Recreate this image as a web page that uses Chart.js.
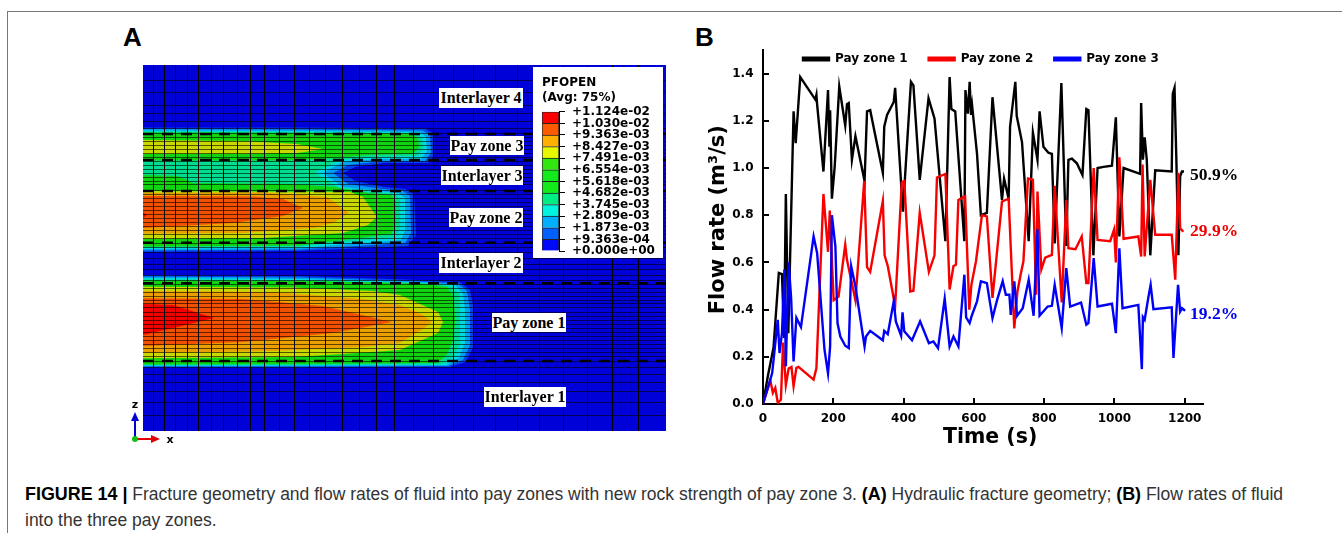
<!DOCTYPE html>
<html>
<head>
<meta charset="utf-8">
<script src="https://cdn.jsdelivr.net/npm/chart.js"></script>
<style>
  html, body { margin: 0; padding: 0; background: #fff; }
  #page { position: relative; width: 1342px; height: 533px; overflow: hidden; }
  canvas { position: absolute; }
  .frame-top { position: absolute; left: 7px; top: 11px; right: 0; height: 1px; background: #777; }
  .frame-left { position: absolute; left: 7px; top: 11px; bottom: 0; width: 1px; background: #777; }
  .panel { position: absolute; font: bold 26px "Liberation Sans", sans-serif; line-height: 30px; }
  .zone { position: absolute; background: #fff; text-align: center; white-space: nowrap; font: bold 16px "Liberation Serif", serif; }
  .share { position: absolute; white-space: nowrap; font: bold 17.5px "Liberation Serif", serif; line-height: 20px; }
  .caption { position: absolute; left: 25px; white-space: nowrap; font: 17.5px "Liberation Sans", sans-serif; line-height: 18px; color: #333; }
  .caption b { color: #000; font-size: 17.9px; }
  #triad { position: absolute; left: 125px; top: 392px; }
</style>
</head>
<body>
<div id="page">
  <div class="frame-top"></div>
  <div class="frame-left"></div>
  <div class="panel" style="left:123px;top:22px">A</div>
  <div class="panel" style="left:695px;top:22px">B</div>

  <canvas id="fieldChart" width="523" height="366" style="left:143px;top:65px"></canvas>
  <canvas id="scaleChart" width="130" height="191" style="left:533px;top:67px;background:#fff"></canvas>

  <div class="zone" style="left:439px;top:88px;width:84px;height:20px;line-height:20px">Interlayer 4</div>
  <div class="zone" style="left:450px;top:136px;width:74px;height:19px;line-height:19px">Pay zone 3</div>
  <div class="zone" style="left:441px;top:166px;width:82px;height:19px;line-height:19px">Interlayer 3</div>
  <div class="zone" style="left:449px;top:208px;width:74px;height:19px;line-height:19px">Pay zone 2</div>
  <div class="zone" style="left:439px;top:253px;width:84px;height:20px;line-height:20px">Interlayer 2</div>
  <div class="zone" style="left:492px;top:313px;width:74px;height:19px;line-height:19px">Pay zone 1</div>
  <div class="zone" style="left:484px;top:387px;width:82px;height:20px;line-height:20px">Interlayer 1</div>

  <svg id="triad" width="60" height="56">
    <text x="10" y="16" font-family="DejaVu Sans" font-weight="bold" font-size="11" text-anchor="middle">z</text>
    <line x1="10" y1="47" x2="10" y2="28" stroke="#0000d0" stroke-width="2"/>
    <polygon points="6,29 14,29 10,20" fill="#0000d0"/>
    <line x1="10" y1="47" x2="27" y2="47" stroke="#e00000" stroke-width="2"/>
    <polygon points="26,43 26,51 35,47" fill="#e00000"/>
    <circle cx="10" cy="47" r="3" fill="#10c010"/>
    <text x="45" y="51" font-family="DejaVu Sans" font-weight="bold" font-size="11" text-anchor="middle">x</text>
  </svg>

  <canvas id="flowChart" width="560" height="410" style="left:690px;top:40px"></canvas>
  <div class="share" style="left:1190px;top:164px;color:#000">50.9%</div>
  <div class="share" style="left:1190px;top:220px;color:#f00000">29.9%</div>
  <div class="share" style="left:1190px;top:303px;color:#0000f0">19.2%</div>

  <div class="caption" style="top:485px"><b>FIGURE 14 |</b> Fracture geometry and flow rates of fluid into pay zones with new rock strength of pay zone 3. <b>(A)</b> Hydraulic fracture geometry; <b>(B)</b> Flow rates of fluid</div>
  <div class="caption" style="top:511px">into the three pay zones.</div>
</div>

<script>
// Panel B: flow rate of each pay zone
const zone1Time = [0,14,30,45,54,60,65,72,87,93,106,149,152,154,172,185,189,191,196,204,217,234,239,244,253,263,289,296,305,341,345,353,372,376,398,421,428,446,471,488,519,531,536,547,573,576,583,588,592,595,609,620,637,653,680,686,699,703,718,722,737,756,768,781,787,798,812,822,830,849,863,869,879,893,909,920,926,940,952,969,993,1004,1014,1026,1073,1076,1081,1086,1092,1102,1116,1163,1166,1171,1176,1182,1187,1192,1198];
const zone1Flow = [0,0.12,0.24,0.555,0.55,0.28,0.89,0.3,1.24,1.105,1.385,1.29,1.31,1.27,0.985,1.33,1.09,1.245,0.87,1.005,1.345,1.18,1.27,1.275,1.035,1.135,0.945,1.24,1.245,0.98,1.175,1.225,1.28,1.34,0.815,1.365,1.35,0.95,1.295,1.21,0.69,1.385,1.25,1.24,0.69,1.33,1.23,1.365,1.225,1.265,1.06,0.8,0.81,1.3,0.865,0.955,0.87,1.175,1.365,1.22,1.11,0.69,1.15,1.035,1.24,1.09,1.065,1.06,0.68,1.36,0.67,1.035,1.04,1.02,0.97,1.25,1.245,0.63,1,1.005,1.01,1.215,0.71,1,0.975,1.275,1.035,1.13,1.035,0.63,0.99,0.985,1.315,1.34,1.05,0.63,0.965,0.985,0.985];

const zone2Time = [0,21,28,35,42,51,57,65,73,81,87,95,101,144,152,172,185,190,201,215,234,239,263,288,296,305,341,346,355,376,395,402,419,428,446,472,488,495,519,531,542,549,556,575,587,593,606,623,637,653,680,699,715,724,734,741,754,768,777,781,792,803,822,830,850,863,869,889,907,920,926,941,952,988,999,1004,1014,1026,1068,1076,1080,1086,1102,1116,1163,1173,1182,1187,1196];
const zone2Flow = [0,0.1,0.047,0.068,0.005,0.018,0.26,0.08,0.15,0.157,0.075,0.153,0.157,0.103,0.152,0.89,0.645,0.82,0.44,0.455,0.675,0.61,0.44,0.945,0.58,0.56,0.86,0.63,0.585,0.415,0.94,0.945,0.477,0.48,0.81,0.56,0.63,0.96,0.975,0.485,0.585,0.59,0.865,0.88,0.4,0.505,0.605,0.8,0.795,0.45,0.858,0.87,0.32,0.477,0.555,0.605,0.955,0.95,0.463,0.9,0.57,0.62,0.632,0.925,0.43,0.865,0.66,0.656,0.71,0.512,0.512,1,0.695,0.69,0.74,0.6,1.045,0.7,0.71,0.625,1.015,0.625,0.95,0.717,0.717,0.527,0.98,0.745,0.73];

const zone3Time = [0,26,42,47,54,61,65,73,80,87,95,108,144,154,175,185,191,196,206,212,220,234,244,251,263,289,293,305,341,345,355,372,378,393,397,402,424,447,472,485,498,517,531,542,556,573,578,588,594,609,620,637,653,666,682,691,701,705,715,723,739,756,770,781,787,810,822,830,850,863,874,905,920,926,941,952,993,1004,1014,1023,1068,1078,1081,1086,1097,1103,1111,1163,1168,1181,1187,1192,1201];
const zone3Flow = [0,0.13,0.357,0.216,0.3,0.57,0.16,0.6,0.45,0.18,0.365,0.326,0.71,0.64,0.23,0.13,0.244,0.8,0.667,0.343,0.286,0.247,0.237,0.583,0.498,0.244,0.286,0.31,0.27,0.31,0.296,0.435,0.35,0.289,0.388,0.308,0.27,0.35,0.258,0.265,0.237,0.446,0.244,0.286,0.244,0.548,0.367,0.343,0.374,0.435,0.52,0.512,0.364,0.44,0.52,0.463,0.463,0.378,0.52,0.374,0.406,0.526,0.374,0.74,0.374,0.413,0.416,0.505,0.322,0.576,0.413,0.43,0.336,0.343,0.618,0.413,0.425,0.3,0.66,0.406,0.42,0.148,0.368,0.357,0.456,0.505,0.402,0.41,0.195,0.505,0.392,0.406,0.395];

// Panel A: contour outlines of PFOPEN as [x, depth] in mesh units, outermost first
const upperBlue = [[0,62.5],[157,62.5],[282,63.5],[290,68],[291,90],[285,98],[242,98],[212,102],[200,108],[212,116],[242,122],[262,124],[271,129],[273,170],[265,181],[157,186],[0,187]];
const upperSky = [[0,64],[157,64.5],[280,65.5],[287,70],[288,88],[282,96],[240,96],[205,100],[190,108],[205,119],[240,124],[260,126],[267,131],[268,168],[262,178],[157,184.5],[0,185.5]];
const upperCyan = [[0,65.5],[157,66],[277,67],[283,72],[284,86],[278,94],[235,94],[200,97],[180,108],[200,122],[235,126],[256,128],[262,133],[262,165],[258,175],[157,183],[0,184]];
const upperMint = [[0,66.5],[157,67],[272,68],[279,73],[280,84],[274,91],[230,92],[196,95],[172,108],[196,123],[230,127],[252,129],[257,135],[257,162],[252,172],[157,181.5],[0,182.5]];
const upperGreen = [[0,67.5],[157,68],[268,68.5],[275,74],[276,82],[270,89],[225,90],[192,93],[167,108],[192,122],[225,128],[248,130],[253,136],[253,158],[248,169],[157,180.5],[0,181.5]];
const gapMint = [[0,95.5],[150,95.5],[192,93],[167,108],[192,122],[150,119],[50,118],[35,111],[0,110]];
const zone3Yellow = [[0,75],[100,76],[154,79],[180,84],[155,88],[100,89],[0,89]];
const zone2Yellow = [[0,126],[207,127],[220,132],[234,152],[225,160],[200,168],[120,173],[0,174]];
const zone2Orange = [[0,128],[120,127.5],[184,132],[206,148],[190,158],[170,163],[100,168],[0,168.5]];
const zone2Hot = [[0,131],[110,131.5],[140,134],[160,143],[140,151],[90,158],[0,163]];
const zone2Red = [[0,147],[4,150],[0,153]];
const lowerBlue = [[0,210],[157,211],[277,215],[317,217],[327,225],[331,245],[331,280],[323,297],[307,302],[157,302.5],[0,302.5]];
const lowerSky = [[0,211.5],[157,212.5],[277,216.5],[315,218.5],[324,226],[327,245],[327,280],[320,295],[305,301],[157,301.5],[0,301.5]];
const lowerCyan = [[0,213],[157,214],[277,217.5],[312,220],[320,228],[322,245],[322,278],[316,293],[303,300],[157,300.5],[0,300.7]];
const lowerMint = [[0,214.5],[157,215],[277,218],[308,221],[316,229],[317,245],[317,278],[311,291],[300,299.5],[157,300],[0,300]];
const lowerGreen = [[0,215.5],[157,216],[277,218.5],[304,222],[311,232],[312,257],[310,275],[304,289],[295,298],[157,299],[0,299.5]];
const zone1Yellow = [[0,221.7],[150,222.5],[230,226],[257,230],[295,247],[300,257],[295,268],[257,285],[230,287],[150,292],[0,293.3]];
const zone1Orange = [[0,226],[130,227],[220,234],[257,240],[280,250],[289,257],[280,264],[257,278],[220,282],[130,286],[0,288]];
const zone1Hot = [[0,233.3],[100,234],[180,241],[249,257],[190,268],[100,277],[0,281]];
const zone1Red = [[0,239],[30,240],[71,253],[30,263],[0,270]];
const fieldOutline = [[0,0],[523,0],[523,366],[0,366]];

const layerBoundaries = [69, 95, 126, 177.7, 218.3, 296];
const meshX = [10.8,21.8,32.8,44.2,55.8,68.2,80.8,94.2,107.8,121.8,136.2,151.2,166.5,182.5,199.2,216.2,233.5,251.5,270.8,290.2,310.2,330.5,352.2,374.2,396.8,420.5,444.5,469.8,495.8];
const meshDepth = [15.3,27.7,40,48.7,56.7,63,68,72,76,80,84,88,92,96,100,104,108,112,116,120,125,129,133,137,141,145,149,153,157,161,165,169,173,178,182,187.3,193.3,199.3,205,210,215,219,223,227,231,235,239,243,247,251,255,259,263,267,271,275,279,283,287,291,296,302.3,309,317.3,326.7,337.3,350.7];

const colorbarLabels = ['+0.000e+00','+9.363e-04','+1.873e-03','+2.809e-03','+3.745e-03','+4.682e-03','+5.618e-03','+6.554e-03','+7.491e-03','+8.427e-03','+9.363e-03','+1.030e-02','+1.124e-02'];
const colorbarColors = ['#0008f8','#0060ff','#00b0ff','#00f4e0','#00ec84','#12ea1c','#12ea1c','#30e810','#e8f800','#ffb000','#ff5a00','#ff0000'];

const C = { base: '#0000d8', blue: '#0044ec', sky: '#00a0f0', cyan: '#00dcdc', mint: '#00dc90', green: '#10d410', yellow: '#c8d800', orange: '#eca000', hot: '#f05000', red: '#f20000' };

// paint order: first entry is painted first
const contourStack = [
  [fieldOutline, C.base],
  [upperBlue, C.blue], [upperSky, C.sky], [upperCyan, C.cyan], [upperMint, C.mint], [upperGreen, C.green], [gapMint, C.mint],
  [zone3Yellow, C.yellow], [zone2Yellow, C.yellow], [zone2Orange, C.orange], [zone2Hot, C.hot], [zone2Red, C.red],
  [lowerBlue, C.blue], [lowerSky, C.sky], [lowerCyan, C.cyan], [lowerMint, C.mint], [lowerGreen, C.green],
  [zone1Yellow, C.yellow], [zone1Orange, C.orange], [zone1Hot, C.hot], [zone1Red, C.red]
];

const boldDejaVu = size => ({ family: '"DejaVu Sans", sans-serif', weight: 'bold', size: size });
// tick labels would otherwise push the plot area in by half a label
const noLabelOverhang = axis => { axis.paddingTop = 0; axis.paddingBottom = 0; axis.paddingLeft = 0; axis.paddingRight = 0; };

Chart.defaults.animation = false;
Chart.defaults.responsive = false;
Chart.defaults.color = '#000';

const boundaryDatasets = layerBoundaries.map(depth => ({
  data: [[0, depth], [523, depth]],
  borderColor: '#000',
  borderWidth: 2.5,
  borderDash: [11, 8],
  pointRadius: 0,
  fill: false
}));
const contourDatasets = contourStack.slice().reverse().map(([outline, color]) => ({
  data: outline,
  backgroundColor: color,
  borderWidth: 0,
  pointRadius: 0,
  fill: 'shape'
}));

new Chart(document.getElementById('fieldChart'), {
  type: 'line',
  data: { datasets: boundaryDatasets.concat(contourDatasets) },
  options: {
    layout: { padding: 0 },
    plugins: { legend: { display: false }, tooltip: { enabled: false } },
    scales: {
      x: {
        type: 'linear', min: 0, max: 523,
        ticks: { display: false, autoSkip: false },
        grid: { color: '#000', lineWidth: 1, drawTicks: false, z: 1 },
        border: { display: false },
        afterBuildTicks: axis => { axis.ticks = meshX.map(value => ({ value })); },
        afterFit: axis => { axis.height = 0; }
      },
      y: {
        type: 'linear', min: 0, max: 366, reverse: true,
        ticks: { display: false, autoSkip: false },
        grid: { color: 'rgba(0,0,0,0.6)', lineWidth: 1, drawTicks: false, z: 1 },
        border: { display: false },
        afterBuildTicks: axis => { axis.ticks = meshDepth.map(value => ({ value })); },
        afterFit: axis => { axis.width = 0; }
      }
    }
  }
});

// colour scale of panel A: one stacked bar, one segment per contour band
new Chart(document.getElementById('scaleChart'), {
  type: 'bar',
  data: {
    labels: ['PFOPEN'],
    datasets: colorbarColors.map(color => ({ data: [1], backgroundColor: color, borderColor: '#222', borderWidth: 1 }))
  },
  options: {
    layout: { padding: { left: 9, bottom: 7 } },
    plugins: {
      legend: { display: false },
      tooltip: { enabled: false },
      title: {
        display: true,
        text: ['PFOPEN', '(Avg: 75%)'],
        align: 'start',
        font: boldDejaVu(12),
        padding: { top: 9, bottom: 7 }
      }
    },
    scales: {
      x: { stacked: true, display: false },
      y: {
        stacked: true, position: 'right', min: 0, max: 12,
        ticks: {
          stepSize: 1, autoSkip: false, padding: 7, font: boldDejaVu(12),
          callback: value => colorbarLabels[value]
        },
        grid: { drawOnChartArea: false, tickLength: 6, tickColor: '#000' },
        border: { color: '#000' },
        afterFit: axis => { axis.width = 104; noLabelOverhang(axis); }
      }
    },
    datasets: { bar: { barPercentage: 1, categoryPercentage: 1 } }
  }
});

const toPoints = (times, flows) => times.map((t, i) => ({ x: t, y: flows[i] }));
const flowLine = (label, times, flows, color, order) => ({
  label, order,
  data: toPoints(times, flows),
  borderColor: color,
  backgroundColor: color,
  borderWidth: 2.4,
  pointRadius: 0,
  tension: 0
});

// the legend sits inside the plot in the original, so it takes no layout room
const legendInside = {
  id: 'legendInside',
  afterLayout(chart) {
    const legend = chart.legend;
    legend.left = 92;
    legend.right = chart.width;
    legend.top = -8;
    legend.bottom = 40;
  }
};

new Chart(document.getElementById('flowChart'), {
  type: 'line',
  data: {
    datasets: [
      flowLine('Pay zone 1', zone1Time, zone1Flow, '#000000', 3),
      flowLine('Pay zone 2', zone2Time, zone2Flow, '#f80000', 2),
      flowLine('Pay zone 3', zone3Time, zone3Flow, '#0000f8', 1)
    ]
  },
  options: {
    layout: { padding: { top: 10, right: 47 } },
    plugins: {
      tooltip: { enabled: false },
      legend: {
        position: 'top', align: 'start', maxHeight: 0.01,
        labels: { boxWidth: 26, boxHeight: 2.5, padding: 21, font: boldDejaVu(12), color: '#000', sort: (a, b) => a.datasetIndex - b.datasetIndex }
      }
    },
    scales: {
      x: {
        type: 'linear', min: 0, max: 1252,
        title: { display: true, text: '\u00a0\u00a0Time (s)', font: boldDejaVu(20.5), padding: { top: 0, bottom: 0 } },
        ticks: { stepSize: 200, includeBounds: false, padding: 14, font: boldDejaVu(12), maxRotation: 0, callback: value => String(value) },
        grid: { drawOnChartArea: false, tickLength: -6, lineWidth: 2, color: '#000' },
        border: { color: '#000', width: 2 },
        afterFit: axis => { axis.height = 46; noLabelOverhang(axis); }
      },
      y: {
        min: 0, max: 1.5,
        title: { display: true, text: '\u00a0\u00a0Flow rate (m³/s)', font: boldDejaVu(21), padding: { top: 16, bottom: 0 } },
        ticks: { stepSize: 0.2, includeBounds: false, padding: 15.5, font: boldDejaVu(12), callback: value => value.toFixed(1) },
        grid: { drawOnChartArea: false, tickLength: -6, lineWidth: 2, color: '#000' },
        border: { color: '#000', width: 2 },
        afterFit: axis => { axis.width = 73; noLabelOverhang(axis); }
      }
    }
  },
  plugins: [legendInside]
});
</script>
</body>
</html>
